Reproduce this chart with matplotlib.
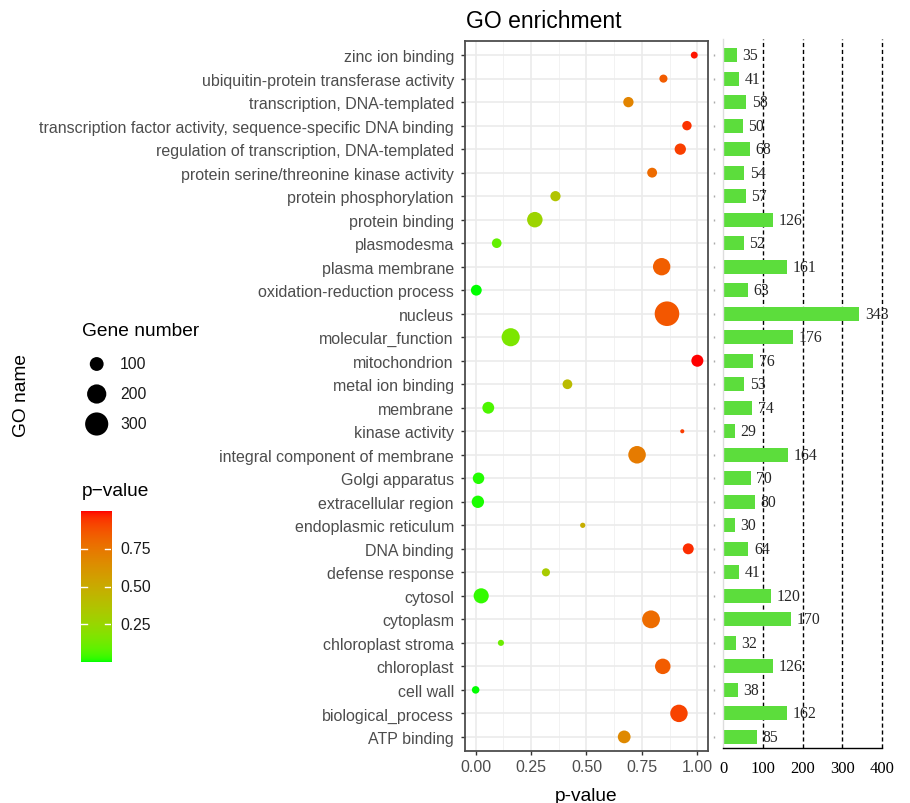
import numpy as np
import matplotlib
matplotlib.use("Agg")
import matplotlib.pyplot as plt
from matplotlib.colors import ListedColormap, Normalize

plt.rcParams['font.family'] = ['Liberation Sans', 'DejaVu Sans']

# ---------------- data ----------------
categories = [
    "zinc ion binding",
    "ubiquitin-protein transferase activity",
    "transcription, DNA-templated",
    "transcription factor activity, sequence-specific DNA binding",
    "regulation of transcription, DNA-templated",
    "protein serine/threonine kinase activity",
    "protein phosphorylation",
    "protein binding",
    "plasmodesma",
    "plasma membrane",
    "oxidation-reduction process",
    "nucleus",
    "molecular_function",
    "mitochondrion",
    "metal ion binding",
    "membrane",
    "kinase activity",
    "integral component of membrane",
    "Golgi apparatus",
    "extracellular region",
    "endoplasmic reticulum",
    "DNA binding",
    "defense response",
    "cytosol",
    "cytoplasm",
    "chloroplast stroma",
    "chloroplast",
    "cell wall",
    "biological_process",
    "ATP binding",
]
pvalues = [0.986, 0.847, 0.689, 0.953, 0.923, 0.796, 0.360, 0.267, 0.095, 0.839,
           0.003, 0.863, 0.158, 1.000, 0.414, 0.057, 0.932, 0.728, 0.013, 0.010,
           0.483, 0.959, 0.317, 0.025, 0.791, 0.114, 0.844, 0.000, 0.917, 0.670]
gene_counts = [35, 41, 58, 50, 68, 54, 57, 126, 52, 161,
               63, 343, 176, 76, 53, 74, 29, 164, 70, 80,
               30, 64, 41, 120, 170, 32, 126, 38, 162, 85]
size_breaks = [100, 200, 300]
pval_ticks = [0.25, 0.50, 0.75]
pval_axis_ticks = [0.0, 0.25, 0.50, 0.75, 1.00]
bar_ticks = [0, 100, 200, 300, 400]

# ---------------- helpers ----------------
W, H = 910, 804
fig = plt.figure(figsize=(W / 100, H / 100), dpi=100)


def px_rect(l, t, r, b):
    return [l / W, 1 - b / H, (r - l) / W, (b - t) / H]


def srgb_to_lab(rgb):
    rgb = np.asarray(rgb, float)
    lin = np.where(rgb <= 0.04045, rgb / 12.92, ((rgb + 0.055) / 1.055) ** 2.4)
    M = np.array([[0.4124564, 0.3575761, 0.1804375],
                  [0.2126729, 0.7151522, 0.0721750],
                  [0.0193339, 0.1191920, 0.9503041]])
    xyz = M @ lin
    white = np.array([0.95047, 1.0, 1.08883])
    t = xyz / white
    d = 6 / 29
    f = np.where(t > d ** 3, np.cbrt(t), t / (3 * d ** 2) + 4 / 29)
    return np.array([116 * f[1] - 16, 500 * (f[0] - f[1]), 200 * (f[1] - f[2])])


def lab_to_srgb(lab):
    L, a, b = lab
    fy = (L + 16) / 116
    fx = fy + a / 500
    fz = fy - b / 200
    d = 6 / 29

    def finv(f):
        return f ** 3 if f > d else 3 * d ** 2 * (f - 4 / 29)
    white = np.array([0.95047, 1.0, 1.08883])
    xyz = np.array([finv(fx), finv(fy), finv(fz)]) * white
    Minv = np.array([[3.2404542, -1.5371385, -0.4985314],
                     [-0.9692660, 1.8760108, 0.0415560],
                     [0.0556434, -0.2040259, 1.0572252]])
    lin = np.clip(Minv @ xyz, 0, 1)
    rgb = np.where(lin <= 0.0031308, 12.92 * lin, 1.055 * lin ** (1 / 2.4) - 0.055)
    return np.clip(rgb, 0, 1)


lab_lo = srgb_to_lab([0, 1, 0])
lab_hi = srgb_to_lab([1, 0, 0])
cmap = ListedColormap([lab_to_srgb(lab_lo + (lab_hi - lab_lo) * t)
                       for t in np.linspace(0, 1, 256)])
norm = Normalize(vmin=min(pvalues), vmax=max(pvalues))

cmin, cmax = min(gene_counts), max(gene_counts)


def point_area(v):
    size = 1 + 5 * np.sqrt((np.asarray(v, float) - cmin) / (cmax - cmin))
    d_px = 4.1 * size
    return (d_px * 0.72) ** 2


rows = np.arange(len(categories))
grey30 = '#4D4D4D'

# ---------------- dot plot ----------------
ax = fig.add_axes(px_rect(465, 42, 708, 752))
ax.set_xlim(-0.048, 1.048)
ax.set_ylim(len(categories) - 0.4, -0.6)
for v in np.arange(0.125, 1.0, 0.25):
    ax.axvline(v, color='#F2F2F2', lw=0.7, zorder=0)
for v in pval_axis_ticks:
    ax.axvline(v, color='#EBEBEB', lw=1.2, zorder=0)
for r in rows:
    ax.axhline(r, color='#EBEBEB', lw=1.2, zorder=0)
ax.scatter(pvalues, rows, s=point_area(gene_counts), c=pvalues, cmap=cmap,
           norm=norm, linewidths=0, zorder=3)
ax.set_xticks(pval_axis_ticks)
ax.set_xticklabels([f"{v:.2f}" for v in pval_axis_ticks])
ax.set_yticks(rows)
ax.set_yticklabels(categories)
ax.tick_params(axis='both', colors='#333333', labelcolor=grey30, labelsize=11.55,
               length=3, width=1)
ax.tick_params(axis='x', pad=3)
ax.tick_params(axis='y', pad=5)
for sp in ax.spines.values():
    sp.set_color('#4D4D4D')
    sp.set_linewidth(1.3)

# ---------------- bar chart ----------------
bx = fig.add_axes(px_rect(723, 40, 882, 749))
bx.set_xlim(0, 400)
bx.set_ylim(29.47, -0.684)
bx.barh(rows, gene_counts, height=0.6, color='#5CDD3C', zorder=2)
for v in bar_ticks[1:]:
    bx.axvline(v, color='black', ls=(0, (3, 2)), lw=1, zorder=1, clip_on=False)
for r, c in zip(rows, gene_counts):
    bx.annotate(str(c), (c, r), xytext=(4, 0), textcoords='offset points',
                va='center', ha='left', fontsize=11.3, color='#262626',
                family=['Liberation Serif', 'DejaVu Serif'], annotation_clip=False,
                zorder=4)
bx.plot(np.full(len(rows), -22), rows, ls='', marker='|', ms=2, color='#AAAAAA',
        clip_on=False)
bx.set_xticks(bar_ticks)
bx.set_xticklabels([str(v) for v in bar_ticks],
                   family=['Liberation Serif', 'DejaVu Serif'], fontsize=12)
bx.tick_params(axis='x', length=0, pad=9, colors='black')
bx.set_yticks([])
for s in ['top', 'right']:
    bx.spines[s].set_visible(False)
bx.spines['bottom'].set_color('black')
bx.spines['bottom'].set_linewidth(1)
bx.spines['left'].set_color('#DDDDDD')
bx.spines['left'].set_linewidth(1)
bx.patch.set_alpha(0)

# ---------------- legends ----------------
lg = fig.add_axes([0, 0, 1, 1], zorder=-1)
lg.set_xlim(0, W)
lg.set_ylim(H, 0)
lg.axis('off')
lg.text(82, 332, "Gene number", fontsize=13.8, va='center', ha='left')
leg_y = [365, 395, 425]
lg.scatter([96.7] * 3, leg_y, s=point_area(size_breaks), color='black', linewidths=0)
for y, v in zip(leg_y, size_breaks):
    lg.text(120, y, str(v), fontsize=11.3, va='center', ha='left', color='#1A1A1A')
lg.text(82, 492, "p\u2212value", fontsize=13.8, va='center', ha='left')

cax = fig.add_axes(px_rect(81, 512, 111, 663))
cax.imshow(np.linspace(0, 1, 256)[:, None], cmap=cmap, aspect='auto',
           origin='lower', extent=[0, 1, 0, 1])
cax.set_xlim(0, 1)
cax.set_ylim(0, 1)
for t in pval_ticks:
    cax.plot([0, 0.2], [t, t], color='white', lw=1)
    cax.plot([0.8, 1], [t, t], color='white', lw=1)
    cax.text(1.3, t, f"{t:.2f}", fontsize=11.3, va='center', ha='left',
             color='#1A1A1A', clip_on=False)
cax.set_xticks([])
cax.set_yticks([])
for sp in cax.spines.values():
    sp.set_visible(False)

# ---------------- titles ----------------
fig.text(466 / W, 1 - 28 / H, "GO enrichment", fontsize=16.5, va='baseline', ha='left')
fig.text(586 / W, 1 - 801 / H, "p-value", fontsize=13.8, va='baseline', ha='center')
fig.text(21 / W, 1 - 396 / H, "GO name", fontsize=13.8, va='center', ha='center',
         rotation=90)

fig.savefig("out.png", dpi=100)
